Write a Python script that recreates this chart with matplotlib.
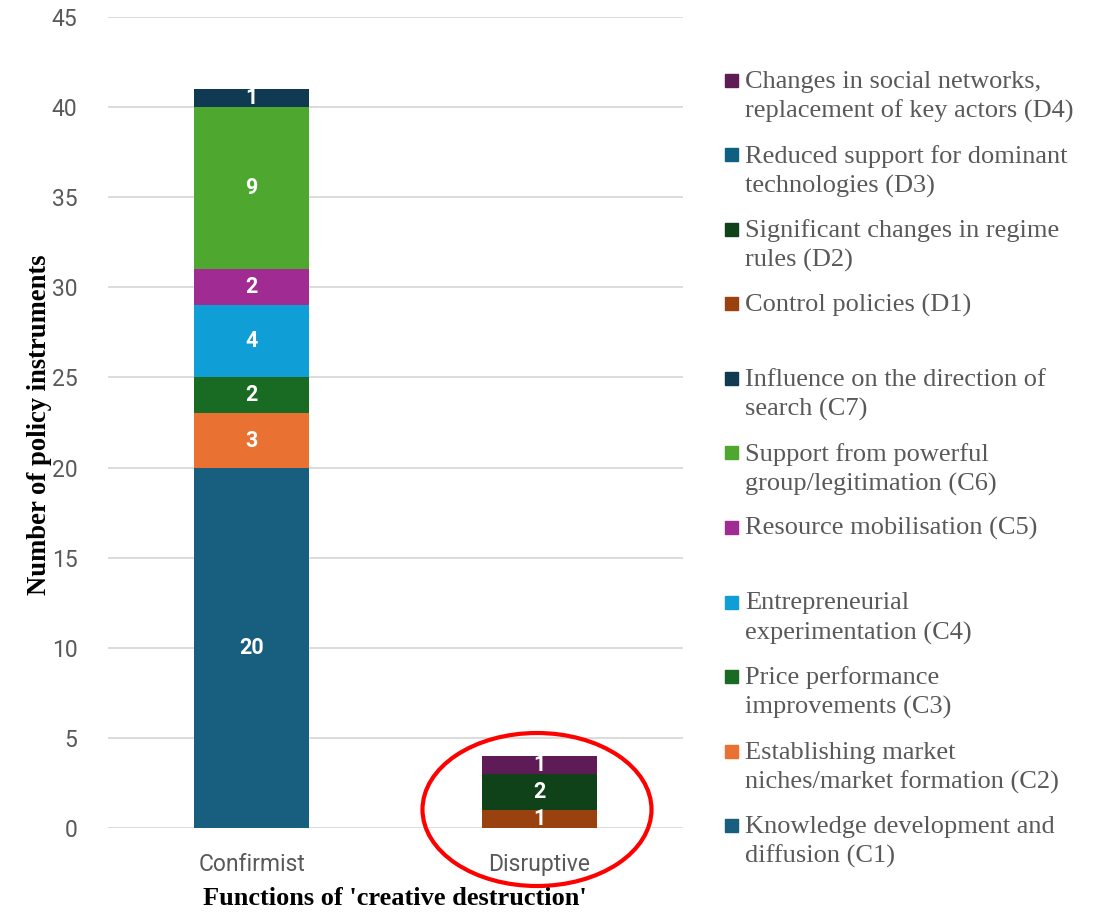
import matplotlib
matplotlib.use("Agg")
import matplotlib.pyplot as plt
from matplotlib.patches import Ellipse, Rectangle
import numpy as np

# ---- data ----
categories = ["Confirmist", "Disruptive"]

confirmist_labels = [
    "Knowledge development and\ndiffusion (C1)",
    "Establishing market\nniches/market formation (C2)",
    "Price performance\nimprovements (C3)",
    "Entrepreneurial\nexperimentation (C4)",
    "Resource mobilisation (C5)",
    "Support from powerful\ngroup/legitimation (C6)",
    "Influence on the direction of\nsearch (C7)",
]
confirmist_values = [20, 3, 2, 4, 2, 9, 1]
confirmist_colors = ["#175e7f", "#e97132", "#196b24", "#0f9ed5", "#a02b93", "#4ea72e", "#0f3a51"]

disruptive_labels = [
    "Control policies (D1)",
    "Significant changes in regime\nrules (D2)",
    "Reduced support for dominant\ntechnologies (D3)",
    "Changes in social networks,\nreplacement of key actors (D4)",
]
disruptive_values = [1, 2, 0, 1]
disruptive_colors = ["#99420f", "#10421a", "#0e5f80", "#5e1b55"]

yticks = list(range(0, 46, 5))
ylabel = "Number of policy instruments"
xlabel = "Functions of 'creative destruction'"

# ---- figure ----
W, H = 1102, 913
fig = plt.figure(figsize=(W / 100, H / 100), dpi=100)
ax = fig.add_axes([108 / W, 1 - 828 / H, (683 - 108) / W, (828 - 17) / H])

sans = ["Roboto", "DejaVu Sans"]
serif = ["Liberation Serif", "DejaVu Serif"]
gray = "#595959"
bar_w = 0.40

def stack(xpos, values, colors):
    bottom = 0
    for v, c in zip(values, colors):
        if v > 0:
            ax.bar(xpos, v, bottom=bottom, width=bar_w, color=c, zorder=3)
            ax.text(xpos, bottom + v / 2, str(v), ha="center", va="center",
                    color="white", fontsize=15.5, fontweight="bold", family=sans, zorder=4)
        bottom += v

stack(0, confirmist_values, confirmist_colors)
stack(1, disruptive_values, disruptive_colors)

ax.set_xlim(-0.5, 1.5)
ax.set_ylim(0, 45)
ax.set_yticks(yticks)
ax.set_xticks([0, 1])
ax.set_xticklabels(categories)
ax.grid(axis="y", color="#d9d9d9", linewidth=1.3, zorder=0)
for s in ax.spines.values():
    s.set_visible(False)
ax.tick_params(axis="both", length=0, labelcolor=gray, labelsize=16.5)
ax.tick_params(axis="y", pad=22)
ax.tick_params(axis="x", pad=18)
for lab in ax.get_xticklabels() + ax.get_yticklabels():
    lab.set_family(sans)

fig.text(40 / W, 1 - 425 / H, ylabel, rotation=90, ha="center", va="center",
         fontsize=19.2, fontweight="bold", family=serif, color="black")
fig.text(395 / W, 1 - 898 / H, xlabel, ha="center", va="center",
         fontsize=19, fontweight="bold", family=serif, color="black")

# ---- legend (manual, Excel-style slots) ----
legend_labels = disruptive_labels[::-1] + confirmist_labels[::-1]
legend_colors = disruptive_colors[::-1] + confirmist_colors[::-1]
base0, slot, line_step = 88, 74.5, 30
for i, (lab, col) in enumerate(zip(legend_labels, legend_colors)):
    base = base0 + i * slot
    fig.patches.append(Rectangle((725 / W, 1 - (base - 1) / H), 13 / W, 13 / H,
                                 transform=fig.transFigure, color=col))
    for j, line in enumerate(lab.split("\n")):
        fig.text(745 / W, 1 - (base + j * line_step) / H, line, ha="left", va="baseline",
                 fontsize=19, family=serif, color=gray)

# ---- red highlight ellipse ----
fig.patches.append(Ellipse((537 / W, 1 - 809.5 / H), 229 / W, 153 / H,
                           transform=fig.transFigure, fill=False,
                           edgecolor="#ff0000", linewidth=3))

fig.savefig("out.png", dpi=100)
